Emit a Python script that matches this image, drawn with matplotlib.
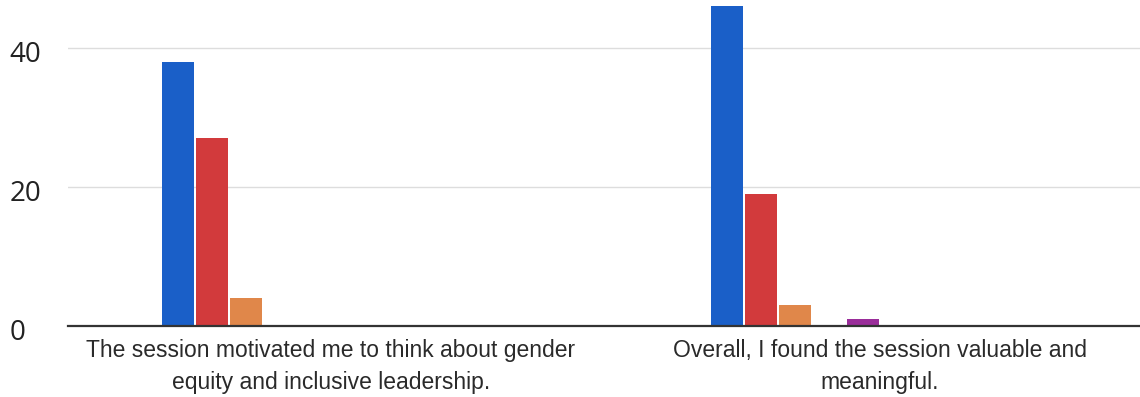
import matplotlib.pyplot as plt
import matplotlib.transforms as mtransforms
from matplotlib import font_manager
import numpy as np

# survey statements (x categories)
statements = [
    "The session motivated me to think about gender\nequity and inclusive leadership.",
    "Overall, I found the session valuable and\nmeaningful.",
]

# counts per answer option (10 options, most empty)
option_counts = [
    [38, 46],  # blue
    [27, 19],  # red
    [4, 3],    # orange
    [0, 0],    # green
    [0, 1],    # purple
    [0, 0],
    [0, 0],
    [0, 0],
    [0, 0],
    [0, 0],
]
option_colors = ['#1a5fc8', '#d23a3c', '#e0874a', '#109618', '#9a2d9a',
                 '#0099c6', '#dd4477', '#66aa00', '#b82e2e', '#316395']

y_ticks = [0, 20, 40]

# pick regular (non narrow) Liberation Sans
arial_file = None
for f in font_manager.fontManager.ttflist:
    if f.name == 'Liberation Sans' and 'Narrow' not in f.fname and f.style == 'normal' and f.weight in (400, 'normal'):
        arial_file = f.fname
        break
if arial_file:
    label_font = font_manager.FontProperties(fname=arial_file, size=16.5)
else:
    label_font = font_manager.FontProperties(family='Liberation Sans', size=16.5)

fig = plt.figure(figsize=(11.4, 3.97), dpi=100)
ax = fig.add_axes([68 / 1140, 71 / 397, 1 - 68 / 1140, 1 - 71 / 397])

x = np.arange(len(statements))
group_w = 0.618
slot = group_w / len(option_counts)
for i, vals in enumerate(option_counts):
    offs = -group_w / 2 + (i + 0.5) * slot
    ax.bar(x + offs, vals, width=slot * 0.95, color=option_colors[i], zorder=3)

ax.set_xlim(-0.479, 1.474)
ax.set_ylim(0, 46.9)

ax.set_yticks(y_ticks)
ax.set_yticklabels([str(v) for v in y_ticks], fontsize=20, family='Open Sans', color='#222222')
ax.tick_params(axis='y', length=0, pad=42)
shift = mtransforms.ScaledTranslation(0, -4 / 100, fig.dpi_scale_trans)
for lab in ax.get_yticklabels():
    lab.set_horizontalalignment('left')
    lab.set_transform(lab.get_transform() + shift)

ax.set_xticks(x)
ax.set_xticklabels(statements, fontproperties=label_font,
                   color='#2a2a2a', linespacing=1.5)
ax.tick_params(axis='x', length=0, pad=9)

ax.grid(axis='y', color='#dddddd', linewidth=1, zorder=0)
for side in ['top', 'right', 'left']:
    ax.spines[side].set_visible(False)
ax.spines['bottom'].set_color('#333333')
ax.spines['bottom'].set_linewidth(1.6)
ax.spines['bottom'].set_zorder(4)

fig.savefig('out.png', dpi=100)
